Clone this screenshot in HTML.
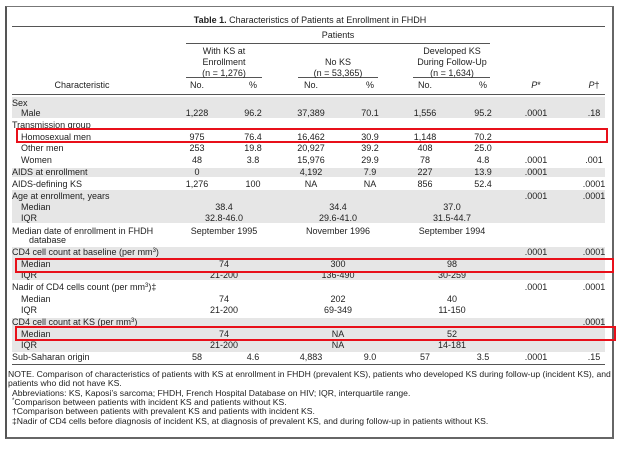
<!DOCTYPE html>
<html><head><meta charset="utf-8"><style>
body{margin:0;width:624px;height:463px;background:#fff;position:relative;overflow:hidden;font-family:"Liberation Sans",Arial,sans-serif;color:#222}
.t{position:absolute;font-size:9px;line-height:10px;white-space:nowrap}
.t sup{font-size:6px;line-height:0;vertical-align:3px}
.c{transform:translateX(-50%)}
.band{position:absolute;left:12px;width:593px;background:#e6e6e6}
.ln{position:absolute;height:1px;background:#555}
.red{position:absolute;border:2px solid #e8101a;box-sizing:border-box}
</style></head><body>
<div style="position:absolute;left:5px;top:6px;width:605px;height:430px;border-left:2px solid #555;border-top:1px solid #777;border-right:2px solid #666;border-bottom:2px solid #666"></div>
<div id="root"></div>
<script>
const root=document.getElementById('root');
function el(cls,style,text,name){const d=document.createElement('div');d.className=cls;d.setAttribute('style',style);if(text!==undefined)d.innerHTML=text;


root.appendChild(d);return d;}
const bands=[[97,21],[168,9],[190,33],[247,33],[318,34]];
bands.forEach(b=>{el('band','top:'+b[0]+'px;height:'+b[1]+'px','', 'row-band');});
el('ln','left:12px;width:593px;top:26px','','title-rule');
el('ln','left:186px;width:304px;top:43px','','patients-rule');
[[186,76],[298,80],[413,77]].forEach(l=>el('ln','left:'+l[0]+'px;width:'+l[1]+'px;top:77px','','group-rule'));
el('ln','left:12px;width:593px;top:94px','','header-rule');
el('ln','left:12px;width:593px;top:364px','','bottom-rule');
el('t c','left:310px;top:15px','<b>Table 1.</b> Characteristics of Patients at Enrollment in FHDH','table-title');
el('t c','left:338px;top:30px','Patients','patients-header');
const groups=[['With KS at','Enrollment','(n = 1,276)'],['','No KS','(n = 53,365)'],['Developed KS','During Follow-Up','(n = 1,634)']];
const gx=[224,338,452];
groups.forEach((g,i)=>g.forEach((s,j)=>{if(s)el('t c','left:'+gx[i]+'px;top:'+(46+j*11)+'px',s,'group-header');}));
const colx=[197,253,311,370,425,483,536,594];
const hdr=['No.','%','No.','%','No.','%','<i>P</i>*','<i>P</i>†'];
el('t c','left:82px;top:80px','Characteristic','characteristic-header');
hdr.forEach((h,i)=>el('t c','left:'+colx[i]+'px;top:80px',h,'column-header'));
const rows=[
[98,'Sex',0,null],
[108,'Male',1,['1,228','96.2','37,389','70.1','1,556','95.2','.0001','.18']],
[120,'Transmission group',0,null],
[132,'Homosexual men',1,['975','76.4','16,462','30.9','1,148','70.2','','']],
[143,'Other men',1,['253','19.8','20,927','39.2','408','25.0','','']],
[155,'Women',1,['48','3.8','15,976','29.9','78','4.8','.0001','.001']],
[167,'AIDS at enrollment',0,['0','','4,192','7.9','227','13.9','.0001','']],
[179,'AIDS-defining KS',0,['1,276','100','NA','NA','856','52.4','','.0001']],
[191,'Age at enrollment, years',0,['','','','','','','.0001','.0001']],
[202,'Median',1,null,['38.4','34.4','37.0']],
[213,'IQR',1,null,['32.8-46.0','29.6-41.0','31.5-44.7']],
[226,'Median date of enrollment in FHDH',0,null,['September 1995','November 1996','September 1994']],
[235,'database',2,null],
[247,'CD4 cell count at baseline (per mm<sup>3</sup>)',0,['','','','','','','.0001','.0001']],
[259,'Median',1,null,['74','300','98']],
[270,'IQR',1,null,['21-200','136-490','30-259']],
[282,'Nadir of CD4 cells count (per mm<sup>3</sup>)‡',0,['','','','','','','.0001','.0001']],
[294,'Median',1,null,['74','202','40']],
[305,'IQR',1,null,['21-200','69-349','11-150']],
[317,'CD4 cell count at KS (per mm<sup>3</sup>)',0,['','','','','','','','.0001']],
[329,'Median',1,null,['74','NA','52']],
[340,'IQR',1,null,['21-200','NA','14-181']],
[352,'Sub-Saharan origin',0,['58','4.6','4,883','9.0','57','3.5','.0001','.15']]
];
rows.forEach(r=>{
 const ind=[12,21,29][r[2]];
 el('t','left:'+ind+'px;top:'+r[0]+'px',r[1],'row-label');
 if(r[3])r[3].forEach((v,i)=>{if(v)el('t c','left:'+colx[i]+'px;top:'+r[0]+'px',v,'cell-value');});
 if(r[4])r[4].forEach((v,i)=>el('t c','left:'+gx[i]+'px;top:'+r[0]+'px',v,'cell-value'));
});
const notes=[[8,369,'NOTE. Comparison of characteristics of patients with KS at enrollment in FHDH (prevalent KS), patients who developed KS during follow-up (incident KS), and'],
[8,378,'patients who did not have KS.'],
[12,388,'Abbreviations: KS, Kaposi’s sarcoma; FHDH, French Hospital Database on HIV; IQR, interquartile range.'],
[12,397,'<sup>*</sup>Comparison between patients with incident KS and patients without KS.'],
[12,406,'†Comparison between patients with prevalent KS and patients with incident KS.'],
[12,416,'‡Nadir of CD4 cells before diagnosis of incident KS, at diagnosis of prevalent KS, and during follow-up in patients without KS.']];
notes.forEach(n=>el('t','left:'+n[0]+'px;top:'+n[1]+'px;font-size:8.6px',n[2],'footnote'));
el('red','left:16px;top:128px;width:592px;height:15px','','highlight-homosexual');
el('red','left:15px;top:258px;width:599px;height:15px','','highlight-cd4-baseline-median');
el('red','left:15px;top:326px;width:601px;height:15px','','highlight-cd4-ks-median');
</script>
</body></html>
